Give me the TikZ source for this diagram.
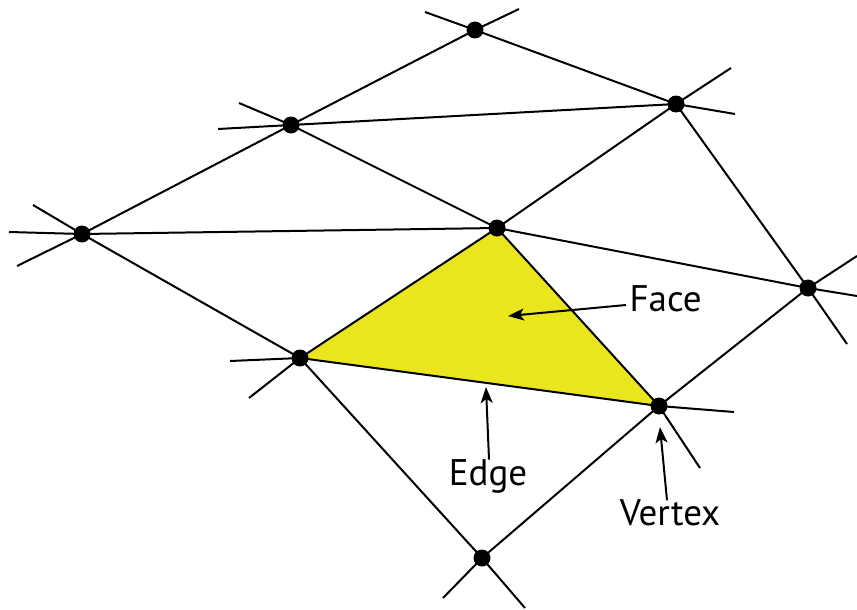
\documentclass[tikz,border=0pt]{standalone}
\usepackage{fontspec}
\setmainfont{PT Sans}
\usetikzlibrary{arrows.meta}
\definecolor{faceyellow}{RGB}{234,230,30}
\tikzset{
  edgeline/.style={line width=2pt},
  stub/.style={line width=2pt},
  vert/.style={circle,fill=black,inner sep=0pt,minimum size=17pt},
  lbl/.style={font=\fontsize{37}{44}\selectfont},
  pointer/.style={line width=2pt,-{Stealth[length=16pt,width=12pt,inset=4pt]}}
}
\begin{document}
\begin{tikzpicture}[x=1pt,y=-1pt]
\useasboundingbox (0,0) rectangle (857,610);
% vertex positions
\coordinate (A) at (475,30);
\coordinate (B) at (291,125);
\coordinate (C) at (676,104);
\coordinate (D) at (82,234);
\coordinate (E) at (497,228);
\coordinate (F) at (808,288);
\coordinate (G) at (300,358);
\coordinate (H) at (659,406);
\coordinate (I) at (482,558);
% face
\fill[faceyellow] (E) -- (G) -- (H) -- cycle;
% edges
\draw[edgeline] (A) -- (B);
\draw[edgeline] (A) -- (C);
\draw[edgeline] (B) -- (C);
\draw[edgeline] (B) -- (D);
\draw[edgeline] (B) -- (E);
\draw[edgeline] (C) -- (E);
\draw[edgeline] (C) -- (F);
\draw[edgeline] (D) -- (E);
\draw[edgeline] (D) -- (G);
\draw[edgeline] (E) -- (G);
\draw[edgeline] (E) -- (H);
\draw[edgeline] (E) -- (F);
\draw[edgeline] (G) -- (H);
\draw[edgeline] (G) -- (I);
\draw[edgeline] (H) -- (I);
\draw[edgeline] (H) -- (F);
% stubs
\coordinate (sA1) at (425,12);
\coordinate (sA2) at (519,9);
\coordinate (sB1) at (239,103);
\coordinate (sB2) at (218,129);
\coordinate (sC1) at (731,68);
\coordinate (sC2) at (735,114);
\coordinate (sD1) at (33,205);
\coordinate (sD2) at (9,232);
\coordinate (sD3) at (17,266);
\coordinate (sF1) at (857,256);
\coordinate (sF2) at (857,296);
\coordinate (sF3) at (847,344);
\coordinate (sG1) at (230,361);
\coordinate (sG2) at (249,398);
\coordinate (sH1) at (734,412);
\coordinate (sH2) at (700,468);
\coordinate (sI1) at (443,598);
\coordinate (sI2) at (525,608);
\foreach \v/\s in {A/sA1,A/sA2,B/sB1,B/sB2,C/sC1,C/sC2,D/sD1,D/sD2,D/sD3,F/sF1,F/sF2,F/sF3,G/sG1,G/sG2,H/sH1,H/sH2,I/sI1,I/sI2}
  \draw[stub] (\v) -- (\s);
% vertex dots
\foreach \v in {A,B,C,D,E,F,G,H,I}
  \node[vert] (n\v) at (\v) {};
% labels
\node[lbl,anchor=west] (face) at (626,299) {Face};
\node[lbl] (edge) at (488,476) {Edge};
\node[lbl] (vertex) at (670,513) {Vertex};
\coordinate (faceT) at (508,316);
\coordinate (edgeT) at (486,387);
\coordinate (vertT) at (660,427);
\draw[pointer] (face.west) ++(0,6) -- (faceT);
\draw[pointer] (edge.north) ++(1,4) -- (edgeT);
\draw[pointer] (vertex.north) ++(-3,4) -- (vertT);
\end{tikzpicture}
\end{document}
